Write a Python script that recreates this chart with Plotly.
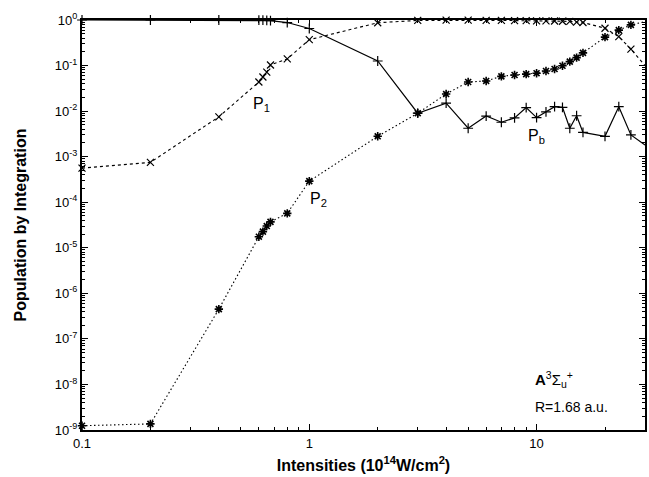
import plotly.graph_objects as go

# Laser intensities in units of 10^14 W/cm^2
intensity = [0.1, 0.2, 0.4, 0.6, 0.625, 0.65, 0.675, 0.8, 1.0, 2, 3, 4, 5, 6, 7, 8,
             9, 10, 11, 12, 13, 14, 15, 16, 20, 23, 26, 30]

# Population remaining bound
p_b = [1.0, 1.0, 1.0, 0.99, 0.99, 0.98, 0.97, 0.88, 0.65, 0.126, 0.0090, 0.0149, 0.0042,
       0.0078, 0.0057, 0.0071, 0.0119, 0.0072, 0.0096, 0.0125, 0.0121, 0.0042, 0.0079,
       0.0034, 0.0028, 0.0125, 0.0030, 0.0018]

# Population of the first ionised channel
p_1 = [5.6e-4, 7.5e-4, 0.0075, 0.0436, 0.056, 0.072, 0.103, 0.14, 0.37, 0.87, 0.98, 0.99,
       0.99, 0.98, 0.98, 0.97, 0.97, 0.96, 0.96, 0.95, 0.94, 0.93, 0.90, 0.88, 0.66, 0.43,
       0.23, 0.10]

# Population of the second ionised channel
p_2 = [1.24e-9, 1.36e-9, 4.5e-7, 1.75e-5, 2.26e-5, 3.0e-5, 3.7e-5, 5.7e-5, 2.9e-4, 2.8e-3,
       9.0e-3, 0.0237, 0.0436, 0.0459, 0.058, 0.062, 0.065, 0.068, 0.076, 0.084, 0.099,
       0.122, 0.149, 0.19, 0.42, 0.60, 0.78, 0.92]

y_tick_vals = [10.0 ** k for k in range(-9, 1)]
y_tick_text = ["10<sup>%d</sup>" % k for k in range(-9, 1)]
x_tick_vals = [0.1, 1, 10]
x_tick_text = ["0.1", "1", "10"]

# minor ticks at 2..9 within each decade
y_minor = [m * 10.0 ** k for k in range(-9, 0) for m in range(2, 10)]
x_minor = [m * 10.0 ** k for k in range(-1, 2) for m in range(2, 10)]

FONT = "Liberation Sans, Arial, sans-serif"

fig = go.Figure()

fig.add_trace(go.Scatter(
    x=intensity, y=p_b, mode="lines+markers", name="P_b",
    line=dict(color="black", width=1.2),
    marker=dict(symbol="cross-thin", size=7, line=dict(color="black", width=1.2)),
    cliponaxis=False,
))
fig.add_trace(go.Scatter(
    x=intensity, y=p_1, mode="lines+markers", name="P_1",
    line=dict(color="black", width=1.1, dash="3px,3px"),
    marker=dict(symbol="x-thin", size=7, line=dict(color="black", width=1.2)),
    cliponaxis=False,
))
fig.add_trace(go.Scatter(
    x=intensity, y=p_2, mode="lines+markers", name="P_2",
    line=dict(color="black", width=1.1, dash="1.5px,2.5px"),
    marker=dict(symbol="asterisk-open", size=7, line=dict(color="black", width=1.6)),
    cliponaxis=False,
))

label_font = dict(family=FONT, size=16, color="black")
annotations = [
    dict(x=-0.21, y=-1.85, text="P<sub>1</sub>", showarrow=False, font=label_font),
    dict(x=0.04, y=-3.95, text="P<sub>2</sub>", showarrow=False, font=label_font),
    dict(x=1.0, y=-2.55, text="P<sub>b</sub>", showarrow=False, font=label_font),
    dict(x=0.985, y=-7.9, text="<b>A</b><sup>3</sup>Σ<sub>u</sub><sup>+</sup>",
         showarrow=False, xanchor="left", font=dict(family=FONT, size=15, color="black")),
    dict(x=0.985, y=-8.5, text="R=1.68 a.u.", showarrow=False, xanchor="left",
         font=dict(family=FONT, size=14, color="black")),
]

axis_common = dict(
    type="log", showgrid=False, zeroline=False, showline=True, linecolor="black",
    linewidth=2, mirror="allticks", ticks="inside", ticklen=6, tickwidth=1.2,
    tickcolor="black", tickfont=dict(family=FONT, size=13, color="black"),
)

fig.update_xaxes(
    **axis_common, range=[-1, 1.477], tickvals=x_tick_vals, ticktext=x_tick_text,
    minor=dict(ticks="inside", ticklen=3, tickwidth=1, tickcolor="black",
               tickmode="array", tickvals=x_minor, showgrid=False),
    title=dict(text="<b>Intensities (10<sup>14</sup>W/cm<sup>2</sup>)</b>",
               font=dict(family=FONT, size=16, color="black"), standoff=10),
)
fig.update_yaxes(
    **axis_common, range=[-9, 0], tickvals=y_tick_vals, ticktext=y_tick_text,
    minor=dict(ticks="inside", ticklen=3, tickwidth=1, tickcolor="black",
               tickmode="array", tickvals=y_minor, showgrid=False),
    title=dict(text="<b>Population by Integration</b>",
               font=dict(family=FONT, size=16, color="black"), standoff=24),
)

fig.update_layout(
    width=649, height=477,
    margin=dict(l=82, r=2, t=20, b=47),
    paper_bgcolor="white", plot_bgcolor="white",
    showlegend=False,
    annotations=annotations,
    font=dict(family=FONT, color="black"),
)

fig.write_html("out.html")
